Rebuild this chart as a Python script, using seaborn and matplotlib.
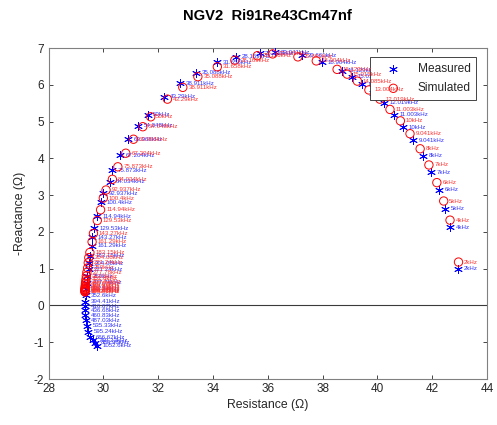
import numpy as np
import pandas as pd
import matplotlib
matplotlib.use("Agg")
import matplotlib.pyplot as plt
import seaborn as sns

freq_labels = ["2kHz", "4kHz", "5kHz", "6kHz", "7kHz", "8kHz", "9.041kHz", "10kHz",
               "11.003kHz", "12.019kHz", "13.004kHz", "14.085kHz", "15.015kHz",
               "16.129kHz", "18.904kHz", "20.661kHz", "23.041kHz", "25.126kHz",
               "28.169kHz", "31.658kHz", "35.088kHz", "38.911kHz", "43.29kHz",
               "50kHz", "54.048kHz", "63.966kHz", "67.204kHz", "75.873kHz",
               "84.034kHz", "92.937kHz", "100.4kHz", "114.94kHz", "129.53kHz",
               "143.27kHz", "161.29kHz", "183.15kHz", "204.08kHz", "221.24kHz",
               "250kHz", "277.78kHz", "312.5kHz", "352.6kHz", "394.41kHz",
               "416.67kHz", "436.68kHz", "460.83kHz", "487.03kHz", "535.33kHz",
               "595.24kHz", "666.67kHz", "769.23kHz", "884.96kHz", "1052.6kHz"]

meas_R = [42.93, 42.66, 42.46, 42.25, 41.96, 41.67, 41.29, 40.95, 40.61, 40.23,
          39.85, 39.44, 39.09, 38.70, 37.97, 37.24, 36.27, 35.70, 34.84, 34.16,
          33.37, 32.81, 32.22, 31.62, 31.28, 30.91, 30.61, 30.31, 30.24, 30.00,
          29.90, 29.76, 29.67, 29.60, 29.58, 29.51, 29.49, 29.46, 29.42, 29.40,
          29.38, 29.35, 29.33, 29.33, 29.33, 29.34, 29.36, 29.40, 29.44, 29.52,
          29.62, 29.70, 29.78]
meas_X = [1.00, 2.12, 2.63, 3.14, 3.62, 4.07, 4.49, 4.85, 5.19, 5.51,
          5.77, 6.01, 6.22, 6.38, 6.61, 6.81, 6.88, 6.86, 6.76, 6.61,
          6.33, 6.04, 5.68, 5.18, 4.88, 4.52, 4.09, 3.68, 3.37, 3.05,
          2.81, 2.43, 2.10, 1.86, 1.63, 1.35, 1.15, 0.98, 0.80, 0.62,
          0.45, 0.28, 0.10, -0.02, -0.13, -0.26, -0.40, -0.55, -0.71, -0.86,
          -0.95, -1.02, -1.10]

sim_R = [42.96, 42.65, 42.42, 42.17, 41.88, 41.56, 41.19, 40.84, 40.46, 40.09,
         39.69, 39.27, 38.90, 38.53, 37.77, 37.10, 36.18, 35.62, 34.80, 34.16,
         33.45, 32.90, 32.34, 31.73, 31.44, 31.10, 30.82, 30.53, 30.33, 30.10,
         30.00, 29.90, 29.78, 29.64, 29.59, 29.51, 29.47, 29.45, 29.43, 29.40,
         29.38, 29.37, 29.36, 29.35, 29.35, 29.34, 29.34, 29.34, 29.33, 29.33,
         29.33, 29.33, 29.33]
sim_X = [1.18, 2.32, 2.84, 3.34, 3.82, 4.26, 4.67, 5.02, 5.33, 5.61,
         5.86, 6.10, 6.29, 6.42, 6.65, 6.76, 6.84, 6.79, 6.67, 6.49,
         6.22, 5.93, 5.61, 5.13, 4.86, 4.52, 4.14, 3.77, 3.43, 3.14,
         2.92, 2.60, 2.31, 1.96, 1.73, 1.44, 1.30, 1.16, 1.02, 0.90,
         0.80, 0.72, 0.65, 0.60, 0.56, 0.52, 0.49, 0.46, 0.44, 0.42,
         0.40, 0.38, 0.37]

x_ticks = [28, 30, 32, 34, 36, 38, 40, 42, 44]
y_ticks = [-2, -1, 0, 1, 2, 3, 4, 5, 6, 7]

sns.set_style("white")
plt.rcParams["font.family"] = ["Liberation Sans", "DejaVu Sans"]

fig = plt.figure(figsize=(4.97, 4.25), dpi=100)
ax = fig.add_axes([0.0976, 0.1082, 0.8823, 0.7788])

df_m = pd.DataFrame({"R": meas_R, "X": meas_X, "f": freq_labels})
df_s = pd.DataFrame({"R": sim_R, "X": sim_X, "f": freq_labels})

ax.axhline(0, color="#3a3a3a", lw=0.8, zorder=1)

sns.scatterplot(data=df_m, x="R", y="X", marker=(6, 2, 0), color="#0000ff",
                s=32, linewidth=0.65, ax=ax, label="Measured", zorder=3)
for r, x, f in zip(df_m["R"], df_m["X"], df_m["f"]):
    ax.annotate(f, (r, x), xytext=(4, 0), textcoords="offset points",
                fontsize=4.4, color="#3030ff", va="center", ha="left", zorder=4)

sns.scatterplot(data=df_s, x="R", y="X", marker="o", color="#ff0000",
                edgecolor="#ff0000", s=36, linewidth=0.7, ax=ax,
                label="Simulated", zorder=5)
ax.collections[-1].set_facecolor("none")
for r, x, f in zip(df_s["R"], df_s["X"], df_s["f"]):
    ax.annotate(f, (r, x), xytext=(4, 0), textcoords="offset points",
                fontsize=4.4, color="#ff3030", va="center", ha="left", zorder=6)

ax.set_xlim(28, 44)
ax.set_ylim(-2, 7)
ax.set_xticks(x_ticks)
ax.set_yticks(y_ticks)
ax.set_xticklabels([str(t) for t in x_ticks])
ax.set_yticklabels([str(t) for t in y_ticks])
ax.tick_params(direction="in", length=3, width=0.6, colors="#262626",
               labelsize=8.5, top=True, right=True, bottom=True, left=True,
               pad=3)
for sp in ax.spines.values():
    sp.set_color("#808080")
    sp.set_linewidth(0.8)

ax.set_xlabel("Resistance (\u03a9)", fontsize=8.8, color="#262626", labelpad=3)
ax.set_ylabel("-Reactance (\u03a9)", fontsize=8.8, color="#262626", labelpad=6)
ax.set_title("NGV2  Ri91Re43Cm47nf", fontsize=10.6, fontweight="bold",
             color="black", pad=20)

leg = ax.legend(loc="upper right", bbox_to_anchor=(0.976, 0.972),
                borderaxespad=0, fontsize=8.6, frameon=True, fancybox=False,
                edgecolor="#262626", framealpha=1, handletextpad=0.6,
                borderpad=0.5, labelspacing=0.6, handlelength=2.85)
leg.get_frame().set_linewidth(0.6)

fig.savefig("out.png", dpi=100)
